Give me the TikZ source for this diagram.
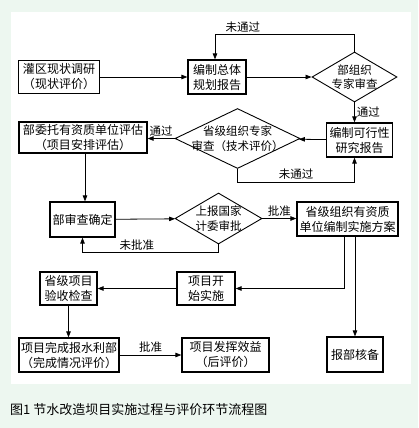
\documentclass[tikz,border=0pt]{standalone}
\usepackage{fontspec}
\setmainfont{Noto Sans CJK SC}
\usepackage{tikz}
\usetikzlibrary{arrows.meta,positioning,calc,shapes.geometric}
\definecolor{mint}{RGB}{237,247,240}
\tikzset{
  box/.style  ={draw,line width=1.2pt,inner sep=0pt,align=center,font=\fontsize{12}{15}\selectfont},
  dia/.style  ={draw,diamond,line width=0.9pt,inner sep=0pt},
  dtxt/.style ={align=center,inner sep=0pt,font=\fontsize{11.5}{14.5}\selectfont},
  ar/.style   ={line width=0.8pt,-{Triangle[length=6pt,width=4.5pt]}},
  lbl/.style  ={font=\fontsize{11.5}{13}\selectfont,inner sep=2pt},
}

\begin{document}
\begin{tikzpicture}[x=1pt,y=-1pt]
  \fill[mint] (0,0) rectangle (418,428);
  \fill[white] (11,12) rectangle (411,384);
  \useasboundingbox (0,0) rectangle (418,428);

  \node[box,minimum width=81pt,minimum height=33pt] (survey) at (59,77) {灌区现状调研\\（现状评价）};
  \node[box,minimum width=58pt,minimum height=34pt] (plan) at (217,77) {编制总体\\规划报告};
  \node[dia,minimum width=85pt,minimum height=50pt] (d1) at (354.5,77) {};
  \node[dtxt] (d1t) at (d1) {部组织\\专家审查};
  \node[box,minimum width=66pt,minimum height=34pt] (feas) at (359.5,140) {编制可行性\\研究报告};
  \node[dia,minimum width=125pt,minimum height=60pt] (d2) at (237.5,138.5) {};
  \node[dtxt] (d2t) at (d2) {省级组织专家\\审查（技术评价）};
  \node[box,minimum width=128pt,minimum height=31pt] (entrust) at (83,137.5) {部委托有资质单位评估\\（项目安排评估）};
  \node[box,minimum width=65pt,minimum height=35pt] (confirm) at (82.5,219.5) {部审查确定};
  \node[dia,minimum width=87pt,minimum height=51pt] (d3) at (218.5,218.5) {};
  \node[dtxt] (d3t) at (d3) {上报国家\\计委审批};
  \node[box,minimum width=101pt,minimum height=34pt] (scheme) at (347.5,219) {省级组织有资质\\单位编制实施方案};
  \node[box,minimum width=58pt,minimum height=33pt] (start) at (206,288.5) {项目开\\始实施};
  \node[box,minimum width=57pt,minimum height=33pt] (accept) at (68.5,288.5) {省级项目\\验收检查};
  \node[box,minimum width=100pt,minimum height=34pt] (report) at (69,355) {项目完成报水利部\\（完成情况评价）};
  \node[box,minimum width=87pt,minimum height=34pt] (benefit) at (225.5,355) {项目发挥效益\\（后评价）};
  \node[box,minimum width=56pt,minimum height=35pt] (file) at (355,354.5) {报部核备};

  \draw[ar] (survey) -- (plan);
  \draw[ar] (plan) -- (d1);
  \draw[ar] (d1.north) -- ++(0,-17) -| ([xshift=-2pt]plan.north) node[lbl,pos=0.4,above]{未通过};
  \draw[ar] (d1.south) -- (d1.south |- feas.north) node[lbl,midway,right]{通过};
  \draw[ar] (feas) -- (d2);
  \draw[ar] (d2.south) -- ++(0,13) -| (d1.south |- feas.south) node[lbl,pos=0.25,above]{未通过};
  \draw[ar] (d2.west) -- (entrust.east |- d2.west) node[lbl,midway,above]{通过};
  \draw[ar] ([xshift=2pt]entrust.south) -- ([xshift=2pt]entrust.south |- confirm.north);
  \draw[ar] (confirm) -- (d3);
  \draw[ar] (d3.south) -- ++(0,8) -| (confirm.south) node[lbl,pos=0.3,above]{未批准};
  \draw[ar] (d3.east) -- (scheme.west |- d3.east) node[lbl,midway,above]{批准};
  \draw[ar] ([xshift=-3.5pt]scheme.south) |- (start.east);
  \draw[ar] (scheme.south -| file.north) -- (file.north);
  \draw[ar] (start) -- (accept);
  \draw[ar] (accept.south) -- (accept.south |- report.north);
  \draw[ar] (report) -- (benefit) node[lbl,midway,above]{批准};

  \node[anchor=west,inner sep=0pt,font=\fontsize{13}{15}\selectfont] (caption) at (10,410) {图1\ 节水改造坝目实施过程与评价环节流程图};
\end{tikzpicture}
\end{document}
